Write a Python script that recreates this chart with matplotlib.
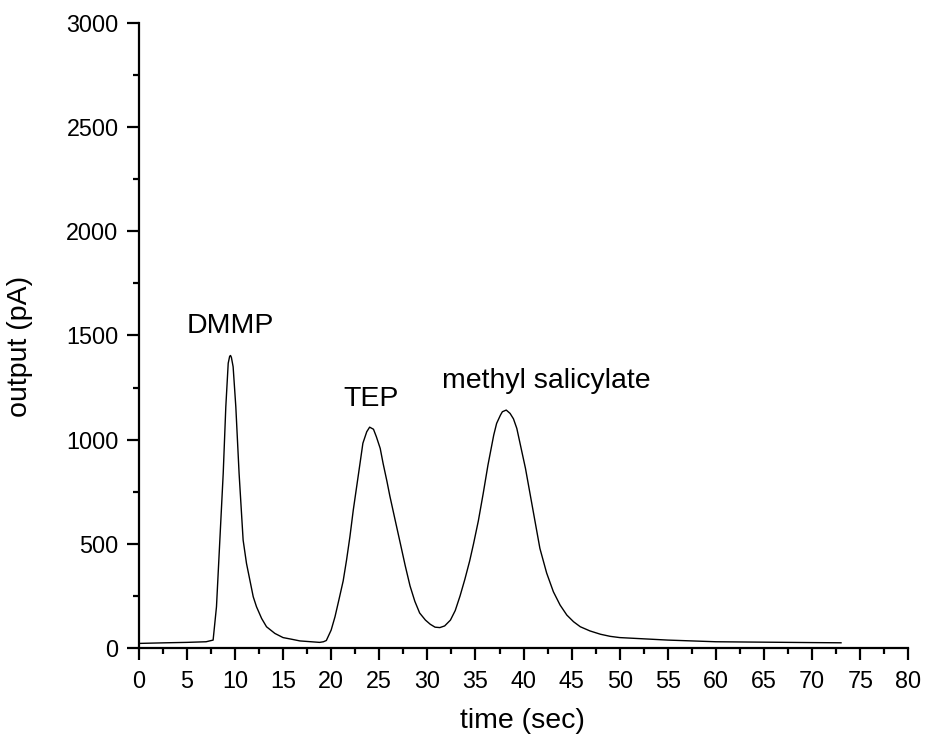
import matplotlib
matplotlib.use("Agg")
import matplotlib.pyplot as plt
from matplotlib.ticker import MultipleLocator

plt.rcParams['font.family'] = ['Liberation Sans', 'DejaVu Sans']

# chromatogram trace (time in sec, output in pA)
time_sec = [0, 2.8, 5, 7.0, 7.73, 8.08, 8.43, 8.78, 9.05, 9.30, 9.45, 9.54,
            9.63, 9.81, 10.09, 10.43, 10.85, 11.2, 11.55, 11.9, 12.24, 12.77,
            13.28, 14.15, 15.0, 15.9, 16.75, 18.8, 19.2, 19.5, 20.0, 20.4,
            20.8, 21.25, 21.6, 21.95, 22.3, 22.65, 23.0, 23.3, 23.7, 24.0,
            24.4, 24.7, 25.1, 25.4, 25.8, 26.1, 26.6, 27.2, 27.7, 28.2, 28.7,
            29.2, 29.8, 30.3, 30.8, 31.3, 31.8, 32.4, 32.9, 33.4, 33.9, 34.4,
            34.8, 35.3, 35.8, 36.3, 36.9, 37.2, 37.6, 37.8, 38.2, 38.6, 38.95,
            39.3, 39.6, 40.2, 40.7, 41.2, 41.7, 42.4, 43.1, 43.8, 44.5, 45.2,
            45.9, 46.9, 48.0, 49.0, 50.0, 55.0, 60.0, 65.0, 70.0, 73.0]
output_pa = [22, 25, 27, 30, 38, 198, 518, 838, 1158, 1367, 1400, 1404,
             1395, 1350, 1158, 838, 518, 406, 326, 246, 198, 142,
             102, 70, 50, 42, 34, 27, 30, 36, 86, 150,
             230, 322, 422, 534, 662, 774, 886, 983, 1038, 1060,
             1050, 1014, 958, 886, 800, 730, 625, 500, 395, 298, 224,
             168, 134, 114, 100, 98, 106, 134, 180, 250, 330, 418,
             500, 610, 740, 878, 1022, 1078, 1118, 1134, 1142, 1126, 1100,
             1054, 990, 862, 734, 606, 478, 360, 270, 206, 158, 126,
             102, 82, 66, 56, 50, 38, 30, 28, 26, 25]

peak_names = ["DMMP", "TEP", "methyl salicylate"]
peak_label_x = [9.5, 24.2, 42.4]
peak_label_y = [1512, 1162, 1247]

fig = plt.figure(figsize=(9.25, 7.41), dpi=100)
ax = fig.add_axes([0.150, 0.1255, 0.832, 0.8435])

ax.plot(time_sec, output_pa, color='black', lw=1.0)

for name, x, y in zip(peak_names, peak_label_x, peak_label_y):
    ax.text(x, y, name, ha='center', va='baseline', fontsize=20.5)

ax.set_xlim(0, 80)
ax.set_ylim(0, 3000)
ax.xaxis.set_major_locator(MultipleLocator(5))
ax.xaxis.set_minor_locator(MultipleLocator(2.5))
ax.yaxis.set_major_locator(MultipleLocator(500))
ax.yaxis.set_minor_locator(MultipleLocator(250))

for side in ['top', 'right']:
    ax.spines[side].set_visible(False)
for side in ['left', 'bottom']:
    ax.spines[side].set_linewidth(1.6)

ax.tick_params(which='major', direction='out', length=8.5, width=1.6,
               labelsize=16.8)
ax.tick_params(which='minor', direction='out', length=4.5, width=1.6)
ax.tick_params(axis='y', which='major', pad=6)
ax.tick_params(axis='x', which='major', pad=7.5)

ax.set_xlabel("time (sec)", fontsize=20.5)
ax.set_ylabel("output (pA)", fontsize=20.5)
ax.xaxis.set_label_coords(0.498, -0.096)
ax.yaxis.set_label_coords(-0.138, 0.483)

fig.savefig("out.png", dpi=100)
